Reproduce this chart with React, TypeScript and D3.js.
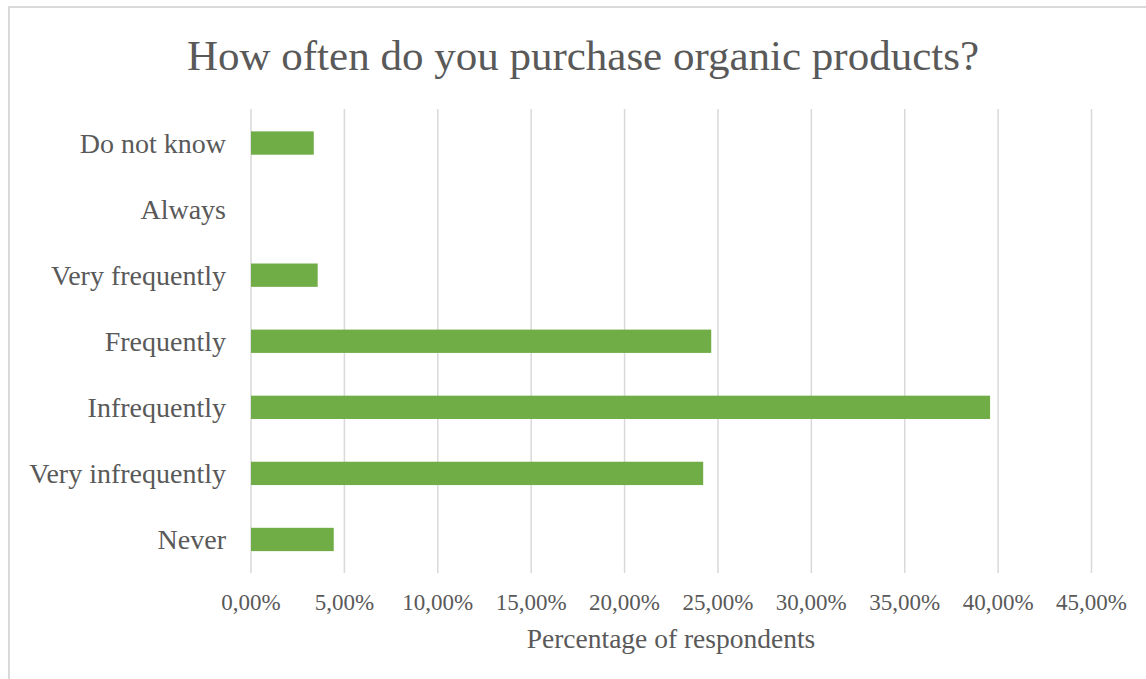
import React from "react";
import * as d3 from "d3";

const title = "How often do you purchase organic products?";
const xAxisTitle = "Percentage of respondents";
const categories = [
  "Do not know",
  "Always",
  "Very frequently",
  "Frequently",
  "Infrequently",
  "Very infrequently",
  "Never",
];
const values = [3.36, 0, 3.57, 24.64, 39.57, 24.21, 4.43];
const xTicks = [0, 5, 10, 15, 20, 25, 30, 35, 40, 45];

const W = 1146;
const H = 679;
const FONT = "'Liberation Serif', 'Times New Roman', serif";
const TEXT = "#595959";
const GRID = "#d9d9d9";
const BAR = "#70ad47";

export default function App() {
  const x = d3.scaleLinear().domain([0, 45]).range([251, 1091.5]);
  const y = d3
    .scaleBand<string>()
    .domain(categories)
    .range([110, 572.5])
    .paddingInner(0.647)
    .paddingOuter(0.3235);
  const fmt = (v: number) => v.toFixed(2).replace(".", ",") + "%";

  return (
    <svg
      width={W}
      height={H}
      style={{ position: "absolute", left: 0, top: 0, background: "#fff" }}
      fontFamily={FONT}
    >
      <rect x={9} y={7} width={W + 10} height={H + 10} fill="#fff" stroke={GRID} strokeWidth={2} />
      <text x={583} y={55} textAnchor="middle" dy="0.35em" fontSize={43} fill={TEXT}>
        {title}
      </text>
      {xTicks.map((t) => (
        <line key={"g" + t} x1={x(t)} x2={x(t)} y1={109} y2={573} stroke={GRID} strokeWidth={1.5} />
      ))}
      {categories.map((c, i) => (
        <rect
          key={"b" + c}
          x={x(0)}
          y={y(c)}
          width={x(values[i]) - x(0)}
          height={y.bandwidth()}
          fill={BAR}
        />
      ))}
      {categories.map((c) => (
        <text
          key={"l" + c}
          x={226}
          y={(y(c) as number) + y.bandwidth() / 2}
          dy="0.35em"
          textAnchor="end"
          fontSize={28}
          fill={TEXT}
        >
          {c}
        </text>
      ))}
      {xTicks.map((t) => (
        <text key={"t" + t} x={x(t)} y={602} dy="0.35em" textAnchor="middle" fontSize={23} fill={TEXT}>
          {fmt(t)}
        </text>
      ))}
      <text x={671} y={638} dy="0.35em" textAnchor="middle" fontSize={27.5} fill={TEXT}>
        {xAxisTitle}
      </text>
    </svg>
  );
}
